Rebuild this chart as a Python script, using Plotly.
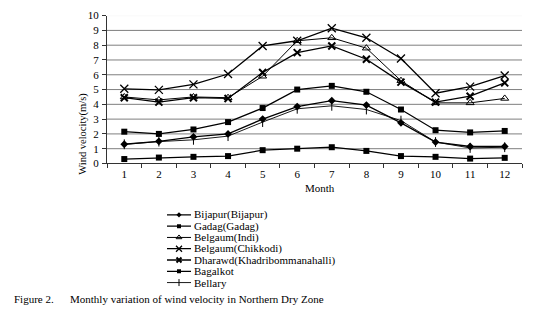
import plotly.graph_objects as go

# Monthly mean wind velocity (m/s), Northern Dry Zone stations
months = list(range(1, 13))
bijapur = [1.3, 1.5, 1.8, 2.0, 3.0, 3.85, 4.25, 3.95, 2.75, 1.45, 1.15, 1.15]
gadag = [2.15, 2.0, 2.3, 2.8, 3.75, 5.0, 5.25, 4.85, 3.65, 2.25, 2.1, 2.2]
belgaum_indi = [4.5, 4.3, 4.5, 4.45, 5.9, 8.3, 8.5, 7.8, 5.6, 4.1, 4.1, 4.4]
belgaum_chikkodi = [5.05, 4.98, 5.35, 6.05, 7.95, 8.3, 9.15, 8.5, 7.1, 4.75, 5.2, 5.95]
dharawd = [4.45, 4.15, 4.45, 4.4, 6.15, 7.5, 7.95, 7.05, 5.5, 4.15, 4.55, 5.45]
bagalkot = [0.3, 0.4, 0.45, 0.5, 0.9, 1.0, 1.1, 0.85, 0.5, 0.45, 0.33, 0.38]
bellary = [1.3, 1.48, 1.6, 1.85, 2.8, 3.7, 3.9, 3.65, 2.9, 1.45, 1.05, 1.1]

series_names = ["Bijapur(Bijapur)", "Gadag(Gadag)", "Belgaum(Indi)",
                "Belgaum(Chikkodi)", "Dharawd(Khadribommanahalli)",
                "Bagalkot", "Bellary"]
series_values = [bijapur, gadag, belgaum_indi, belgaum_chikkodi, dharawd,
                 bagalkot, bellary]
y_ticks = list(range(0, 11))
grid_levels = list(range(1, 10))

W, H = 558, 326
SERIF = "Liberation Serif, Times New Roman, serif"

marker_styles = [
    dict(symbol="diamond", size=6, color="black"),
    dict(symbol="square", size=6, color="black"),
    dict(symbol="triangle-up-open", size=7, color="black", line=dict(width=1, color="black")),
    dict(symbol="x-thin-open", size=8, color="black", line=dict(width=1.3, color="black")),
    dict(symbol="x-thin-open", size=7, color="black", line=dict(width=2, color="black")),
    dict(symbol="square", size=6, color="black"),
    dict(symbol="line-ns-open", size=7, color="black", line=dict(width=1, color="black")),
]
line_widths = [1.3, 1.3, 1.0, 1.3, 1.3, 1.3, 0.9]


def px_x(p):
    return p / W


def px_y(p):
    return 1 - p / H


fig = go.Figure()

for name, vals, mk, lw in zip(series_names, series_values, marker_styles, line_widths):
    fig.add_trace(go.Scatter(
        x=months, y=vals, mode="lines+markers", name=name,
        line=dict(color="black", width=lw), marker=mk,
        showlegend=False, xaxis="x", yaxis="y", cliponaxis=False,
    ))

# Hand-built compact legend on its own small axes
for i, (name, mk, lw) in enumerate(zip(series_names, marker_styles, line_widths)):
    fig.add_trace(go.Scatter(
        x=[0, 0.5, 1], y=[i, i, i], mode="lines", showlegend=False,
        line=dict(color="black", width=lw), xaxis="x2", yaxis="y2",
        hoverinfo="skip",
    ))
    small = dict(mk)
    small["size"] = max(mk["size"] - 2, 4)
    fig.add_trace(go.Scatter(
        x=[0.5], y=[i], mode="markers", showlegend=False, marker=small,
        xaxis="x2", yaxis="y2", hoverinfo="skip",
    ))
    fig.add_annotation(
        x=1, y=i, xref="x2", yref="y2", text=name, showarrow=False,
        xanchor="left", yanchor="middle", xshift=1,
        font=dict(family=SERIF, size=11, color="black"),
    )

# Horizontal gridlines
shapes = []
for g in grid_levels:
    shapes.append(dict(type="line", xref="x domain", yref="y", x0=0, x1=1,
                       y0=g, y1=g, line=dict(color="#7f7f7f", width=1), layer="below"))
shapes.append(dict(type="line", xref="x domain", yref="y", x0=0, x1=1,
                   y0=10, y1=10, line=dict(color="#ececec", width=1), layer="below"))

fig.update_layout(
    width=W, height=H,
    margin=dict(l=0, r=0, t=0, b=0),
    paper_bgcolor="white", plot_bgcolor="white",
    font=dict(family=SERIF, color="black", size=11),
    shapes=shapes,
    xaxis=dict(
        domain=[px_x(107), px_x(522)], anchor="y",
        range=[0.5, 12.5], tickvals=months, ticks="",
        showgrid=False, zeroline=False, showline=True,
        linecolor="#333", linewidth=1,
        tickfont=dict(family=SERIF, size=11),
        ticklabelstandoff=0,
        minor=dict(tick0=0.5, dtick=1, ticks="outside", ticklen=4,
                   tickcolor="#333", showgrid=False),
    ),
    yaxis=dict(
        domain=[px_y(163.5), px_y(10)], anchor="x",
        range=[0, 10], tickvals=y_ticks, ticks="outside", ticklen=4,
        tickcolor="#333", showgrid=False, zeroline=False, showline=True,
        linecolor="#333", linewidth=1,
        tickfont=dict(family=SERIF, size=11),
        ticklabelstandoff=1,
    ),
    xaxis2=dict(domain=[px_x(167), px_x(191)], anchor="y2", range=[0, 1],
                visible=False, fixedrange=True),
    yaxis2=dict(domain=[px_y(293), px_y(211)], anchor="x2", range=[6.5, -0.5],
                visible=False, fixedrange=True),
)

fig.add_annotation(x=px_x(75), y=px_y(88), xref="paper", yref="paper",
                   text="Wind velocity(m/s)", textangle=-90, showarrow=False,
                   font=dict(family=SERIF, size=10.5))
fig.add_annotation(x=px_x(320), y=px_y(189), xref="paper", yref="paper",
                   text="Month", showarrow=False,
                   font=dict(family=SERIF, size=11))
fig.add_annotation(x=px_x(12), y=px_y(313), xref="paper", yref="paper",
                   text="Figure 2.", showarrow=False, xanchor="left",
                   font=dict(family=SERIF, size=11))
fig.add_annotation(x=px_x(68), y=px_y(313), xref="paper", yref="paper",
                   text="Monthly variation of wind velocity in Northern Dry Zone",
                   showarrow=False, xanchor="left",
                   font=dict(family=SERIF, size=11))

fig.write_html("out.html")
